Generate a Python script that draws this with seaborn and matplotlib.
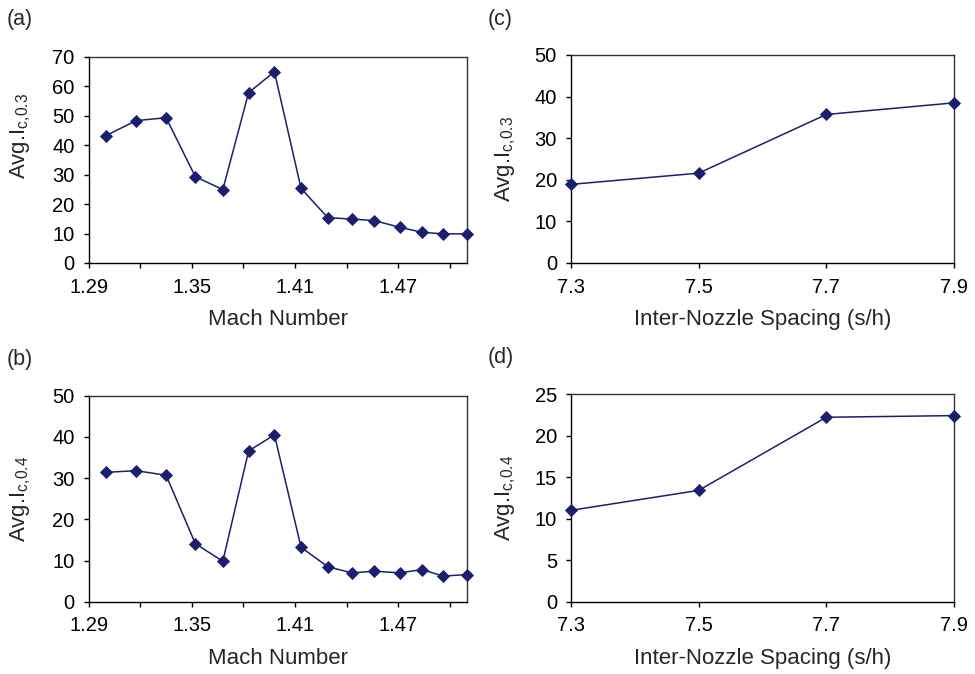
import numpy as np
import pandas as pd
import matplotlib
matplotlib.use("Agg")
import matplotlib.pyplot as plt
import seaborn as sns

sns.set_theme(style="ticks")
plt.rcParams["font.family"] = ["Liberation Sans", "DejaVu Sans"]
plt.rcParams["mathtext.fontset"] = "custom"
plt.rcParams["mathtext.rm"] = "Liberation Sans"
plt.rcParams["mathtext.it"] = "Liberation Sans:italic"

# Mach number sweep
mach = [1.300, 1.3175, 1.335, 1.352, 1.368, 1.383, 1.398, 1.4135,
        1.429, 1.443, 1.456, 1.471, 1.484, 1.496, 1.510]
ic03_mach = [43.2, 48.3, 49.3, 29.3, 24.9, 57.8, 64.9, 25.3,
             15.4, 14.9, 14.4, 12.1, 10.4, 9.9, 9.9]
ic04_mach = [31.4, 31.8, 30.7, 14.1, 9.8, 36.6, 40.5, 13.2,
             8.5, 7.0, 7.4, 7.0, 7.8, 6.2, 6.6]

# Inter-nozzle spacing sweep
spacing = [7.3, 7.5, 7.7, 7.9]
ic03_spacing = [18.9, 21.6, 35.7, 38.5]
ic04_spacing = [11.0, 13.4, 22.2, 22.4]

mach_ticks = [1.29, 1.32, 1.35, 1.38, 1.41, 1.44, 1.47, 1.50]
mach_labels = ["1.29", "", "1.35", "", "1.41", "", "1.47", ""]
spacing_ticks = [7.3, 7.5, 7.7, 7.9]
spacing_labels = ["7.3", "7.5", "7.7", "7.9"]

color = "#1c1f6e"
tick_fs = 14.5
label_fs = 16

fig = plt.figure(figsize=(9.75, 6.74), dpi=100)
W, H = 975, 674

def make_axes(left, right, top, bottom):
    return fig.add_axes([left / W, 1 - bottom / H, (right - left) / W, (bottom - top) / H])

boxes = {
    "a": (88.7, 467, 56.7, 263),
    "c": (571, 954, 55, 263),
    "b": (88.7, 467, 395.7, 601.7),
    "d": (571, 954, 394, 601.7),
}
axes = {k: make_axes(*v) for k, v in boxes.items()}

panels = [
    ("a", mach, ic03_mach, "Mach Number", r"Avg.I$_{\mathrm{c{,}0.3}}$", (0, 70), np.arange(0, 71, 10),
     (1.29, 1.51), mach_ticks, mach_labels, 136.5),
    ("b", mach, ic04_mach, "Mach Number", r"Avg.I$_{\mathrm{c{,}0.4}}$", (0, 50), np.arange(0, 51, 10),
     (1.29, 1.51), mach_ticks, mach_labels, None),
    ("c", spacing, ic03_spacing, "Inter-Nozzle Spacing (s/h)", r"Avg.I$_{\mathrm{c{,}0.3}}$", (0, 50), np.arange(0, 51, 10),
     (7.3, 7.9), spacing_ticks, spacing_labels, None),
    ("d", spacing, ic04_spacing, "Inter-Nozzle Spacing (s/h)", r"Avg.I$_{\mathrm{c{,}0.4}}$", (0, 25), np.arange(0, 26, 5),
     (7.3, 7.9), spacing_ticks, spacing_labels, None),
]

ylabel_right = {"a": 33, "b": 33, "c": 518, "d": 518}

for key, xs, ys, xlabel, ylabel, ylim, yticks, xlim, xticks, xticklabels, ycenter in panels:
    ax = axes[key]
    left, right, top, bottom = boxes[key]
    df = pd.DataFrame({"x": xs, "y": ys})
    sns.lineplot(data=df, x="x", y="y", ax=ax, color=color, linewidth=1.1,
                 marker="D", markersize=6, markeredgewidth=0.6,
                 markeredgecolor=color, markerfacecolor=color, zorder=3)
    for line in ax.get_lines():
        line.set_clip_on(False)
    ax.set_xlim(*xlim)
    ax.set_ylim(*ylim)
    ax.set_xticks(xticks)
    ax.set_xticklabels(xticklabels)
    ax.set_yticks(yticks)
    ax.set_xlabel(xlabel, fontsize=label_fs, labelpad=9)
    ax.set_ylabel(ylabel, fontsize=label_fs)
    ax.tick_params(axis="both", labelsize=tick_fs, direction="out", length=3.6, width=1,
                   colors="black")
    ax.tick_params(axis="x", pad=7)
    ax.tick_params(axis="y", pad=6.5)
    for s in ax.spines.values():
        s.set_visible(True)
        s.set_color("black")
        s.set_linewidth(1.0)
    ax.spines["top"].set_color("#333333")
    ax.spines["right"].set_color("#333333")
    yc = (top + bottom) / 2 if ycenter is None else ycenter
    ax.yaxis.set_label_coords((ylabel_right[key] - left) / (right - left),
                              (bottom - yc) / (bottom - top))

fig.text(7 / W, 1 - 19 / H, "(a)", fontsize=15.5, va="center", ha="left")
fig.text(7 / W, 1 - 359 / H, "(b)", fontsize=15.5, va="center", ha="left")
fig.text(488 / W, 1 - 19 / H, "(c)", fontsize=15.5, va="center", ha="left")
fig.text(488 / W, 1 - 358 / H, "(d)", fontsize=15.5, va="center", ha="left")

fig.savefig("out.png", dpi=100, facecolor="white")
